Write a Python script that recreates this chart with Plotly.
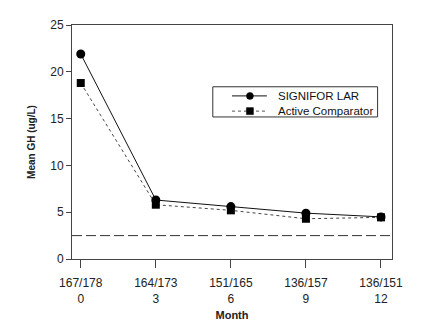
import plotly.graph_objects as go

months = [0, 3, 6, 9, 12]
n_labels = ["167/178", "164/173", "151/165", "136/157", "136/151"]
signifor = [21.9, 6.3, 5.6, 4.9, 4.5]
comparator = [18.8, 5.8, 5.2, 4.3, 4.45]
threshold = 2.5
y_ticks = [0, 5, 10, 15, 20, 25]
series_names = ["SIGNIFOR LAR", "Active Comparator"]

tick_text = [f"{n}<br>{m}" for n, m in zip(n_labels, months)]

fig = go.Figure()
fig.add_trace(go.Scatter(
    x=months, y=signifor, name=series_names[0], mode="lines+markers",
    line=dict(color="#111", width=1), marker=dict(symbol="circle", size=9, color="#000"),
))
fig.add_trace(go.Scatter(
    x=months, y=comparator, name=series_names[1], mode="lines+markers",
    line=dict(color="#444", width=1, dash="dot"), marker=dict(symbol="square", size=8, color="#000"),
))
fig.add_hline(y=threshold, line=dict(color="#333", width=1, dash="10px,4px"))

# manual legend (compact, like the reference)
fig.add_shape(type="rect", xref="paper", yref="paper", x0=0.44, x1=0.955, y0=0.607, y1=0.736,
              line=dict(color="#333", width=1), fillcolor="white", layer="above")
rows = [0.697, 0.632]
styles = [("solid", "#111", "circle"), ("dot", "#555", "rect")]
for yy, (dash, col, sym), name in zip(rows, styles, series_names):
    fig.add_shape(type="line", xref="paper", yref="paper", x0=0.5, x1=0.609, y0=yy, y1=yy,
                  line=dict(color=col, width=1, dash=dash), layer="above")
    fig.add_shape(type=sym, xref="paper", yref="paper", xsizemode="pixel", ysizemode="pixel",
                  xanchor=0.556, yanchor=yy, x0=-3.5, x1=3.5, y0=-3.5, y1=3.5,
                  line=dict(color="#000", width=0.5), fillcolor="#000", layer="above")
    fig.add_annotation(text=name, xref="paper", yref="paper", x=0.636, y=yy, xanchor="left",
                       yanchor="middle", showarrow=False, font=dict(size=11.5, color="#111"))

font = "Liberation Sans, Arial, sans-serif"
fig.update_layout(
    width=423, height=332,
    margin=dict(l=72, r=31, t=25, b=73),
    plot_bgcolor="white", paper_bgcolor="white",
    font=dict(family=font, size=12, color="#222"),
    showlegend=False,
    xaxis=dict(range=[-0.35, 12.44], tickmode="array", tickvals=months, ticktext=tick_text,
               showline=True, mirror=True, linecolor="#444", linewidth=1,
               ticks="outside", ticklen=8, tickcolor="#444", showgrid=False, zeroline=False,
               ticklabelstandoff=5,
               title=dict(text="<b>Month</b>", standoff=6, font=dict(size=11))),
    yaxis=dict(range=[0, 25], tickvals=y_ticks,
               showline=True, mirror=True, linecolor="#444", linewidth=1,
               ticks="outside", ticklen=5, tickcolor="#444", showgrid=False, zeroline=False,
               title=dict(text="<b>Mean GH (ug/L)</b>", standoff=12, font=dict(size=10))),
)
fig.write_html("out.html")
